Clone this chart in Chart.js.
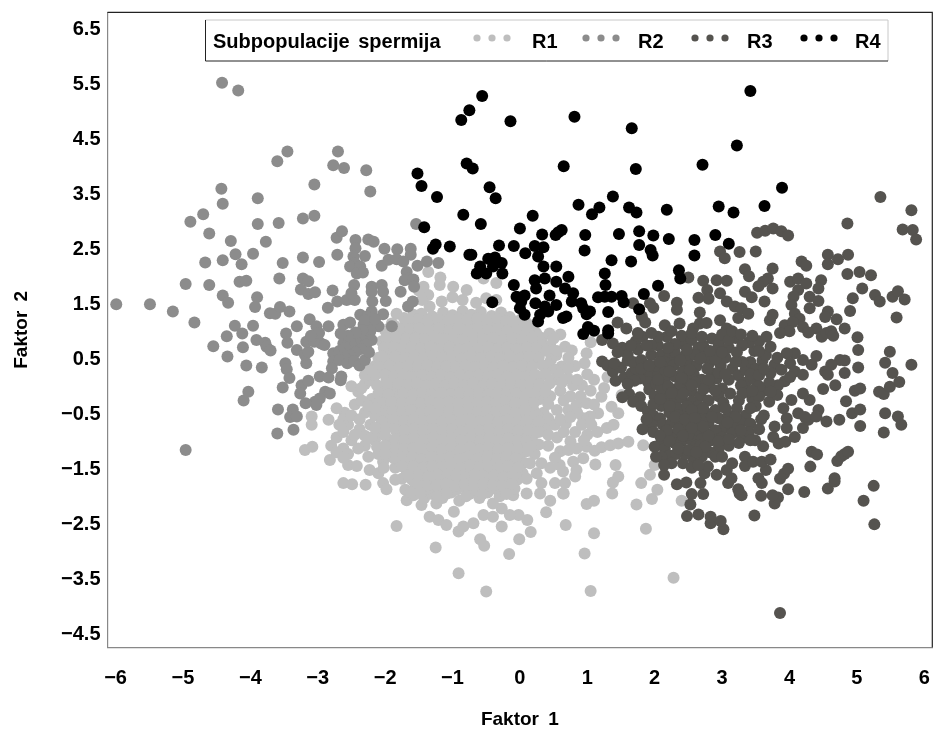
<!DOCTYPE html>
<html><head><meta charset="utf-8">
<style>html,body{margin:0;padding:0;background:#fff}#w{width:934px;height:729px;position:relative}</style>
<script src="https://cdn.jsdelivr.net/npm/chart.js@4"></script></head>
<body><div id="w"><canvas id="c" width="934" height="729"></canvas></div>
<script>
const xTicks=[-6,-5,-4,-3,-2,-1,0,1,2,3,4,5,6];
const yTicks=[-4.5,-3.5,-2.5,-1.5,-0.5,0.5,1.5,2.5,3.5,4.5,5.5,6.5];
const seriesNames=['R1','R2','R3','R4'];
const legendTitle='Subpopulacije spermija';
const xTitle='Faktor 1', yTitle='Faktor 2';
const r1=[
[-1.36,2.06],[-1.18,1.96],[-1.19,1.82],[-0.99,1.79],[-1.43,1.79],[-1.36,1.64],[-1.34,1.43],[-1.16,1.52],[-0.79,1.73],[-1.83,1.3],[-0.54,1.94],[-0.35,1.86],[-1.5,1.72],[-1.45,1.55],[-1.0,1.6],[-0.85,1.55],[-0.65,1.5],[-0.5,1.58],[-0.35,1.55],
[-1.83,-2.56],[-1.25,-2.95],[-0.91,-3.42],[-3.19,-1.18],[-3.08,-1.12],[-2.62,-1.78],[-2.49,-1.8],[-2.29,-1.81],[-2.03,-1.78],[-1.98,-1.89],[-2.82,-1.36],[-2.55,-1.45],[-2.42,-1.47],[-2.23,-1.54],[-2.1,-1.6],[-2.03,-1.39],[-3.09,-0.57],[-3.09,-0.72],[-2.84,-0.63],[-1.34,-2.39],[-1.21,-2.45],[-1.09,-2.54],[-0.91,-2.66],[-0.84,-2.57],[-0.98,-2.3],[-1.68,-2.09],[-1.46,-2.18],[-1.24,-2.15],
[-0.5,-3.75],[1.05,-3.74],[2.28,-3.5],[0.96,-3.06],[-0.16,-3.07],[-0.59,-2.8],[-0.53,-2.92],[-0.01,-2.8],[0.16,-2.67],[0.68,-2.54],[1.1,-2.69],[1.87,-2.61],[1.73,-2.17],[1.96,-2.07],[2.4,-2.1],[2.04,-1.9],[0.99,-2.16],[1.1,-2.1],[1.37,-1.97],[0.39,-2.31],[0.45,-2.1],[0.65,-1.97],[0.3,-1.97],[0.11,-2.45],[-0.02,-2.36],[-0.15,-2.36],[-0.27,-2.57],[-0.69,-2.51],[-0.54,-2.36],[-0.4,-2.39],[-0.27,-2.24],[0.1,-1.97],[-0.1,-2],[-0.4,-2.15],[1.42,-1.45],[1.12,-1.44],[1.38,-1.77],[1.46,-1.66],[1.8,-1.78],[1.93,-1.63],[2,-1.45],[1.83,-1.09],[0.99,-1.12],[1.11,-1.19],[1.21,-1.13],[1.34,-1.09],[1.46,-1.06],[1.61,-1.03],[0.84,-1.15],[0.94,-1.33],[0.79,-1.39],[0.84,-1.54],[0.82,-1.66],[0.64,-1.57],[0.67,-1.78],[0.64,-1.97],[0.59,-1.45],[0.52,-1.78],[0.32,-1.78],[0.32,-1.42],[0.25,-1.6],
[1.29,-0.78],[1.39,-0.72],[1.46,-0.51],[1.36,-0.39],[1.51,-0.18],[1.21,-0.21],[1.16,-0.51],[1.04,-0.57],[0.94,-0.6],[0.84,-0.36],[0.99,-0.33],[0.79,0],[0.99,0.58],[0.96,0.4],[0.67,0.7],[0.77,0.63],[0.92,0],[0.71,0.12],[0.62,0.34],[0.46,0.46],[0.33,0.86],[0.6,0.92],[1.3,0.15],[1.25,-0.05],[1.1,0.1],[0.45,-0.2],[0.6,-0.1],[0.55,-0.45],[0.68,-0.7],[0.82,-0.85],[0.55,-0.95],[0.4,-0.75],[0.42,-1.1],[0.6,-1.2],[0.22,-1.25],[0.18,-0.95],[1.15,-0.85],[1.0,-0.9],[0.75,-1.02],[0.3,0.15],[0.5,0.1],[0.3,0.6],[0.45,0.72],[1.05,0.78],[0.2,-0.45],[0.35,-0.5],[0.3,-0.25],
[-2.6,-0.5],[-2.72,-0.42],[-2.45,-0.35],[-2.3,-0.5],[-2.55,-0.72],[-2.38,-0.8],[-2.72,-0.95],[-2.8,-1.1],[-2.62,-1.15],[-2.5,-1.0],[-2.3,-1.1],[-2.15,-1.0],[-2.08,-0.85],[-2.22,-0.72],[-2.15,-0.55],[-2.02,-0.42],[-2.4,-0.12],[-2.5,-0.02],[-2.3,0.02],[-2.18,0.08],[-2.05,-0.12],[-2.2,-0.25],[-1.98,0.1],[-2.15,0.35],[-2.1,0.5],[-1.98,0.62],[-2.05,0.8],[-2.0,1.0],[-1.9,1.12],[-2.25,-1.3],[-2.1,-1.25],[-1.92,-1.2],[-1.95,-1.05],[-1.9,-0.72],[-1.92,-0.55],[-1.88,-0.3],[-1.85,-1.5],[-1.75,-1.7],[-1.85,-1.72],[-1.7,-1.9],[-1.58,-2.0],[-1.42,-2.05],[-1.3,-1.98],[-1.15,-2.05],[-1.02,-1.95],[-0.9,-2.1],[-0.75,-1.98],[-0.6,-2.05],[-0.48,-1.95],[-0.3,-2.02],
[-1.72,1.22],[-1.58,1.28],[-1.46,1.3],[-1.3,1.25],[-1.14,1.32],[-1.0,1.27],[-0.85,1.35],[-0.72,1.28],[-0.58,1.33],[-0.42,1.26],[-0.28,1.32],[-0.15,1.24],[0.02,1.2],
[-1.86,1.08],[-1.7,1.1],[-1.55,1.12],[-1.42,1.08],[-1.28,1.13],[-1.12,1.09],[-0.98,1.12],[-0.84,1.1],[-0.7,1.14],[-0.55,1.08],[-0.4,1.12],[-0.26,1.1],[-0.12,1.05],[0.04,1.08],[0.18,1.03],
[-1.9,0.93],[-1.76,0.96],[-1.62,0.92],[-1.48,0.95],[-1.35,0.9],[-1.2,0.96],[-1.06,0.92],[-0.92,0.95],[-0.78,0.9],[-0.62,0.96],[-0.48,0.92],[-0.33,0.95],[-0.2,0.9],[-0.06,0.94],[0.1,0.9],[0.24,0.95],
[-1.95,0.76],[-1.82,0.78],[-1.68,0.74],[-1.54,0.78],[-1.4,0.75],[-1.26,0.8],[-1.12,0.74],[-0.98,0.78],[-0.83,0.74],[-0.7,0.79],[-0.55,0.75],[-0.4,0.78],[-0.26,0.74],[-0.12,0.78],[0.02,0.74],[0.17,0.78],[0.31,0.73],
[-1.92,0.58],[-1.78,0.6],[-1.64,0.56],[-1.5,0.6],[-1.36,0.57],[-1.22,0.62],[-1.08,0.57],[-0.94,0.6],[-0.8,0.56],[-0.66,0.61],[-0.5,0.57],[-0.36,0.6],[-0.22,0.56],[-0.08,0.6],[0.06,0.56],[0.2,0.6],
[-2.0,0.42],[-1.86,0.44],[-1.72,0.4],[-1.58,0.44],[-1.44,0.4],[-1.3,0.45],[-1.16,0.41],[-1.02,0.44],[-0.88,0.4],[-0.74,0.45],[-0.6,0.41],[-0.46,0.44],[-0.32,0.4],[-0.18,0.44],[-0.04,0.4],[0.1,0.44],[0.24,0.41],
[-2.08,0.24],[-1.94,0.27],[-1.8,0.23],[-1.66,0.27],[-1.52,0.23],[-1.38,0.28],[-1.24,0.24],[-1.1,0.27],[-0.96,0.23],[-0.82,0.28],[-0.68,0.24],[-0.54,0.27],[-0.4,0.23],[-0.26,0.27],[-0.12,0.23],[0.02,0.27],[0.16,0.24],[0.4,0.28],
[-1.88,0.08],[-1.74,0.11],[-1.6,0.07],[-1.46,0.1],[-1.32,0.06],[-1.18,0.11],[-1.04,0.07],[-0.9,0.1],[-0.76,0.06],[-0.62,0.11],[-0.48,0.07],[-0.34,0.1],[-0.2,0.06],[-0.06,0.1],[0.08,0.06],[0.22,0.1],
[-1.94,-0.08],[-1.8,-0.05],[-1.66,-0.09],[-1.52,-0.06],[-1.38,-0.1],[-1.24,-0.05],[-1.1,-0.09],[-0.96,-0.06],[-0.82,-0.1],[-0.68,-0.05],[-0.54,-0.09],[-0.4,-0.06],[-0.26,-0.1],[-0.12,-0.06],[0.02,-0.09],[0.16,-0.05],[0.3,-0.08],
[-1.98,-0.24],[-1.82,-0.21],[-1.68,-0.25],[-1.54,-0.22],[-1.4,-0.26],[-1.26,-0.21],[-1.12,-0.25],[-0.98,-0.22],[-0.84,-0.26],[-0.7,-0.21],[-0.56,-0.25],[-0.42,-0.22],[-0.28,-0.26],[-0.14,-0.22],[0,-0.25],[0.14,-0.21],
[-1.96,-0.4],[-1.82,-0.38],[-1.68,-0.41],[-1.54,-0.38],[-1.4,-0.42],[-1.26,-0.37],[-1.12,-0.41],[-0.98,-0.38],[-0.84,-0.42],[-0.7,-0.37],[-0.56,-0.41],[-0.42,-0.38],[-0.28,-0.42],[-0.14,-0.38],[0,-0.41],[0.12,-0.38],
[-1.96,-0.57],[-1.8,-0.54],[-1.66,-0.58],[-1.52,-0.55],[-1.38,-0.59],[-1.24,-0.54],[-1.1,-0.58],[-0.96,-0.55],[-0.82,-0.59],[-0.68,-0.54],[-0.54,-0.58],[-0.4,-0.55],[-0.26,-0.59],[-0.12,-0.55],[0.02,-0.58],[0.16,-0.6],
[-1.78,-0.71],[-1.64,-0.74],[-1.5,-0.71],[-1.36,-0.75],[-1.22,-0.7],[-1.08,-0.74],[-0.94,-0.71],[-0.8,-0.75],[-0.66,-0.7],[-0.52,-0.74],[-0.38,-0.71],[-0.24,-0.75],[-0.1,-0.71],[0.04,-0.74],[0.2,-0.72],
[-2.0,-0.92],[-1.82,-0.88],[-1.68,-0.91],[-1.54,-0.88],[-1.4,-0.92],[-1.26,-0.87],[-1.12,-0.91],[-0.98,-0.88],[-0.84,-0.92],[-0.7,-0.87],[-0.56,-0.91],[-0.42,-0.88],[-0.28,-0.92],[-0.14,-0.88],[0,-0.91],[0.06,-0.85],
[-1.78,-1.05],[-1.64,-1.08],[-1.5,-1.05],[-1.36,-1.09],[-1.22,-1.04],[-1.08,-1.08],[-0.94,-1.05],[-0.8,-1.09],[-0.66,-1.04],[-0.52,-1.08],[-0.38,-1.05],[-0.24,-1.09],[-0.1,-1.05],[0.04,-1.08],[0.1,-1.2],
[-1.82,-1.22],[-1.68,-1.25],[-1.54,-1.22],[-1.4,-1.26],[-1.26,-1.21],[-1.12,-1.25],[-0.98,-1.22],[-0.84,-1.26],[-0.7,-1.21],[-0.56,-1.25],[-0.42,-1.22],[-0.28,-1.26],[-0.14,-1.22],[0,-1.25],
[-1.8,-1.38],[-1.64,-1.41],[-1.5,-1.38],[-1.36,-1.42],[-1.22,-1.38],[-1.08,-1.42],[-0.94,-1.38],[-0.8,-1.42],[-0.66,-1.38],[-0.52,-1.41],[-0.38,-1.38],[-0.24,-1.42],[-0.1,-1.38],[0.06,-1.41],
[-1.68,-1.56],[-1.52,-1.55],[-1.38,-1.58],[-1.24,-1.54],[-1.1,-1.58],[-0.96,-1.55],[-0.82,-1.59],[-0.68,-1.54],[-0.54,-1.58],[-0.4,-1.55],[-0.26,-1.59],[-0.12,-1.55],[0.04,-1.6],
[-1.6,-1.72],[-1.44,-1.72],[-1.3,-1.75],[-1.16,-1.71],[-1.02,-1.75],[-0.88,-1.72],[-0.74,-1.76],[-0.6,-1.71],[-0.46,-1.75],[-0.32,-1.72],[-0.18,-1.76],[-0.04,-1.72],
[-1.5,-1.88],[-1.36,-1.88],[-1.22,-1.9],[-1.08,-1.86],[-0.94,-1.9],[-0.8,-1.87],[-0.66,-1.9],[-0.52,-1.86],[-0.38,-1.88],[-0.22,-1.9],[-0.08,-1.88]
];
const r1Core=[
[-1.65,1.17],[-1.5,1.2],[-1.36,1.18],[-1.21,1.2],[-1.06,1.18],[-0.92,1.21],[-0.78,1.19],[-0.63,1.22],[-0.48,1.18],[-0.34,1.2],[-0.2,1.16],[-0.06,1.16],[0.1,1.13],
[-1.95,1.02],[-1.8,1.03],[-1.63,1.02],[-1.49,1.04],[-1.35,1.0],[-1.2,1.03],[-1.05,1.0],[-0.91,1.03],[-0.77,1.0],[-0.62,1.03],[-0.47,1.0],[-0.33,1.03],[-0.19,0.99],[-0.05,1.0],[0.11,0.97],[0.26,0.9],[0.44,0.94],
[-1.98,0.86],[-1.83,0.87],[-1.69,0.84],[-1.55,0.86],[-1.41,0.83],[-1.27,0.88],[-1.13,0.84],[-0.99,0.86],[-0.85,0.82],[-0.69,0.87],[-0.55,0.84],[-0.4,0.86],[-0.26,0.82],[-0.12,0.86],[0.03,0.83],[0.18,0.87],[0.5,0.85],
[-2.02,0.68],[-1.87,0.69],[-1.75,0.66],[-1.61,0.68],[-1.47,0.67],[-1.33,0.7],[-1.19,0.66],[-1.05,0.69],[-0.9,0.65],[-0.76,0.68],[-0.62,0.66],[-0.47,0.69],[-0.33,0.66],[-0.19,0.68],[-0.05,0.66],[0.1,0.68],[0.25,0.67],[0.4,0.62],
[-2.05,0.52],[-1.85,0.52],[-1.71,0.48],[-1.57,0.52],[-1.43,0.49],[-1.29,0.53],[-1.15,0.49],[-1.01,0.52],[-0.87,0.48],[-0.73,0.53],[-0.58,0.49],[-0.43,0.52],[-0.29,0.48],[-0.15,0.52],[-0.01,0.48],[0.13,0.52],[0.28,0.5],[0.54,0.55],
[-2.1,0.33],[-1.93,0.35],[-1.79,0.32],[-1.65,0.35],[-1.51,0.32],[-1.37,0.36],[-1.23,0.33],[-1.09,0.35],[-0.95,0.32],[-0.81,0.36],[-0.67,0.33],[-0.53,0.35],[-0.39,0.32],[-0.25,0.35],[-0.11,0.32],[0.03,0.35],[0.18,0.33],[0.34,0.36],[0.52,0.28],
[-2.15,0.18],[-2.0,0.19],[-1.87,0.16],[-1.73,0.19],[-1.59,0.15],[-1.45,0.19],[-1.31,0.15],[-1.17,0.19],[-1.03,0.15],[-0.89,0.19],[-0.75,0.15],[-0.61,0.19],[-0.47,0.15],[-0.33,0.19],[-0.19,0.15],[-0.05,0.18],[0.09,0.15],[0.23,0.19],[0.38,0.2],[0.58,0.2],
[-2.12,0.0],[-1.97,0.02],[-1.81,0.03],[-1.67,0.0],[-1.53,0.03],[-1.39,-0.01],[-1.25,0.03],[-1.11,-0.01],[-0.97,0.03],[-0.83,-0.01],[-0.69,0.03],[-0.55,-0.01],[-0.41,0.03],[-0.27,-0.01],[-0.13,0.03],[0.01,-0.01],[0.15,0.03],[0.29,0.02],[0.44,0.03],[0.62,0.05],
[-2.1,-0.15],[-1.95,-0.16],[-1.73,-0.15],[-1.59,-0.17],[-1.45,-0.14],[-1.31,-0.17],[-1.17,-0.14],[-1.03,-0.17],[-0.89,-0.14],[-0.75,-0.17],[-0.61,-0.14],[-0.47,-0.17],[-0.33,-0.14],[-0.19,-0.17],[-0.05,-0.14],[0.09,-0.17],[0.23,-0.14],[0.38,-0.12],
[-2.08,-0.32],[-1.91,-0.31],[-1.75,-0.33],[-1.61,-0.3],[-1.47,-0.33],[-1.33,-0.3],[-1.19,-0.33],[-1.05,-0.3],[-0.91,-0.33],[-0.77,-0.3],[-0.63,-0.33],[-0.49,-0.3],[-0.35,-0.33],[-0.21,-0.3],[-0.07,-0.33],[0.07,-0.3],[0.21,-0.32],[0.42,-0.34],
[-2.1,-0.47],[-1.89,-0.47],[-1.75,-0.49],[-1.61,-0.46],[-1.47,-0.5],[-1.33,-0.46],[-1.19,-0.5],[-1.05,-0.46],[-0.91,-0.5],[-0.77,-0.46],[-0.63,-0.5],[-0.49,-0.46],[-0.35,-0.5],[-0.21,-0.46],[-0.07,-0.5],[0.07,-0.47],[0.25,-0.55],[0.42,-0.6],
[-2.05,-0.66],[-1.88,-0.63],[-1.72,-0.65],[-1.58,-0.63],[-1.44,-0.66],[-1.3,-0.62],[-1.16,-0.66],[-1.02,-0.63],[-0.88,-0.67],[-0.74,-0.62],[-0.6,-0.66],[-0.46,-0.63],[-0.32,-0.67],[-0.18,-0.63],[-0.04,-0.66],[0.1,-0.64],[0.28,-0.66],[0.52,-0.72],
[-1.99,-0.78],[-1.85,-0.8],[-1.71,-0.82],[-1.57,-0.79],[-1.43,-0.83],[-1.29,-0.79],[-1.15,-0.83],[-1.01,-0.8],[-0.87,-0.84],[-0.73,-0.79],[-0.59,-0.83],[-0.45,-0.8],[-0.31,-0.84],[-0.17,-0.8],[-0.03,-0.83],[0.12,-0.82],[0.28,-0.85],
[-1.85,-0.98],[-1.71,-1.0],[-1.57,-0.97],[-1.43,-1.0],[-1.29,-0.96],[-1.15,-1.0],[-1.01,-0.97],[-0.87,-1.0],[-0.73,-0.96],[-0.59,-1.0],[-0.45,-0.97],[-0.31,-1.0],[-0.17,-0.97],[-0.03,-1.0],[0.1,-1.02],[0.28,-1.08],
[-1.86,-1.14],[-1.72,-1.16],[-1.58,-1.14],[-1.44,-1.17],[-1.3,-1.13],[-1.16,-1.17],[-1.02,-1.14],[-0.88,-1.17],[-0.74,-1.13],[-0.6,-1.17],[-0.46,-1.14],[-0.32,-1.17],[-0.18,-1.14],[-0.04,-1.17],[0.16,-1.12],
[-1.88,-1.32],[-1.73,-1.32],[-1.6,-1.3],[-1.46,-1.34],[-1.32,-1.3],[-1.18,-1.34],[-1.04,-1.3],[-0.9,-1.34],[-0.76,-1.3],[-0.62,-1.33],[-0.48,-1.3],[-0.34,-1.34],[-0.2,-1.3],[-0.06,-1.33],
[-1.74,-1.48],[-1.58,-1.48],[-1.44,-1.5],[-1.3,-1.47],[-1.16,-1.5],[-1.02,-1.47],[-0.88,-1.51],[-0.74,-1.46],[-0.6,-1.5],[-0.46,-1.47],[-0.32,-1.51],[-0.18,-1.47],[-0.03,-1.5],[0.15,-1.42],
[-1.66,-1.64],[-1.5,-1.64],[-1.36,-1.67],[-1.22,-1.63],[-1.08,-1.67],[-0.94,-1.64],[-0.8,-1.68],[-0.66,-1.63],[-0.52,-1.67],[-0.38,-1.64],[-0.24,-1.68],[-0.1,-1.64],[0.1,-1.7],
[-1.55,-1.8],[-1.38,-1.82],[-1.24,-1.83],[-1.1,-1.79],[-0.96,-1.83],[-0.82,-1.8],[-0.68,-1.83],[-0.54,-1.79],[-0.4,-1.82],[-0.26,-1.83],[-0.12,-1.8],
[-1.62,-1.95],[-1.48,-1.96],[-1.22,-2.02],[-1.08,-1.97],[-0.8,-2.02],[-0.56,-1.98],[-0.2,-1.98],
[-2.62,-0.62],[-2.5,-0.55],[-2.38,-0.62],[-2.45,-0.9],[-2.62,-0.85],[-2.3,-0.92],[-2.4,-1.15],[-2.55,-1.25],[-2.2,-0.95],[-2.15,-0.78],[-2.12,-1.12],[-2.0,-1.1],[-2.35,-0.28],[-2.25,-0.38],[-2.35,-0.05],[-2.3,0.18],[-2.25,0.3],[-2.15,-0.42],[-2.68,-0.72],[-2.72,-1.22],[-2.62,-1.32],[-2.02,-1.5],[-2.0,-1.25],
[0.55,0.62],[0.72,0.5],[0.82,0.35],[0.72,0.3],[0.85,0.1],[1.0,0.2],[0.65,-0.28],[0.75,-0.2],[0.9,-0.2],[1.05,-0.1],[0.72,-0.45],[0.85,-0.5],[1.1,-0.35],[0.6,-0.62],[0.75,-0.58],[0.92,-0.72],[1.06,-0.72],[0.65,-0.85],[0.95,-1.0],[0.42,-0.9],[0.52,-1.32],[0.45,-1.5],[0.72,-1.18]
];
const r2=[
[-4.42,5.5],[-4.18,5.36],[-2.7,4.25],[-3.45,4.25],[-3.6,4.07],[-2.77,4.0],[-2.61,3.95],[-2.28,3.91],[-3.05,3.65],[-2.22,3.52],[-4.43,3.57],[-4.41,3.3],[-3.89,3.4],[-4.7,3.11],[-4.89,2.97],[-3.89,2.93],[-3.58,2.95],[-3.22,3.03],[-3.05,3.08],[-1.54,2.93],[-4.61,2.76],[-4.29,2.62],[-3.77,2.61],[-2.72,2.68],[-2.64,2.8],[-2.44,2.64],[-2.25,2.65],[-2.17,2.61],[-2.01,2.48],[-1.82,2.47],[-1.62,2.48],[-1.62,2.37],[-4.22,2.38],[-3.96,2.39],[-4.67,2.23],[-4.41,2.27],[-4.13,2.2],[-3.52,2.22],[-3.22,2.32],[-2.98,2.24],[-2.71,2.37],[-2.44,2.49],[-2.3,2.35],[-2.47,2.34],[-2.45,2.22],[-2.52,2.16],[-2.37,2.16],[-2.42,2.03],[-2.33,2.05],[-2.05,2.17],[-1.95,2.28],[-1.83,2.29],[-1.73,2.25],[-1.52,2.17],[-1.38,2.25],[-1.21,2.22],[-1.68,2.06],[-1.66,1.94],[-1.71,1.91],[-1.58,1.92],[-1.57,1.79],[-1.77,1.7],
[-4.96,1.84],[-4.61,1.82],[-4.16,1.88],[-4.06,1.9],[-3.57,1.94],[-3.22,1.94],[-3.14,1.89],[-3.25,1.74],[-3.14,1.66],[-3.04,1.69],[-2.78,1.72],[-2.46,1.82],[-2.2,1.79],[-2.05,1.82],[-2.2,1.7],[-2.03,1.7],[-4.41,1.63],[-4.33,1.5],[-3.9,1.6],[-3.93,1.42],[-5.99,1.47],[-5.49,1.47],[-5.15,1.34],[-4.83,1.14],[-3.71,1.31],[-3.63,1.3],[-3.56,1.42],[-3.42,1.34],[-2.85,1.41],[-2.71,1.52],[-2.57,1.55],[-2.45,1.55],[-2.5,1.67],[-2.19,1.52],[-1.99,1.53],[-2.2,1.34],[-2.37,1.28],[-2.27,1.25],[-2.03,1.29],[-1.66,1.43],[-1.59,1.52],[-3.12,1.2],[-4.23,1.08],[-3.96,1.08],[-3.31,1.07],[-3.02,1.07],[-2.84,1.07],[-2.62,1.1],[-2.52,1.14],[-2.32,1.1],[-2.23,1.13],[-2.1,1.07],[-1.9,1.07],[-2.3,1.18],[-2.15,1.2],
[-4.55,0.71],[-4.35,0.89],[-4.12,0.94],[-4.11,0.69],[-4.34,0.52],[-4.06,0.36],[-3.83,0.32],[-3.91,0.82],[-3.78,0.77],[-3.76,0.7],[-3.7,0.63],[-3.47,0.94],[-3.45,0.77],[-3.31,0.64],[-3.48,0.4],[-3.46,0.29],[-3.42,0.13],[-3.52,-0.04],[-3.24,0],[-3.14,0.08],[-3.26,-0.15],[-3.17,0.4],[-3.19,0.55],[-3.14,0.61],[-3.17,0.79],[-3.05,0.79],[-2.95,0.76],[-2.9,0.73],[-2.77,0.58],[-2.77,0.43],[-2.79,0.31],[-2.62,0.76],[-2.65,0.16],[-2.66,0.09],[-2.97,0.16],[-2.84,0.14],[-4.03,-0.12],[-4.1,-0.28],[-2.89,-0.12],[-2.82,-0.15],[-3.04,-0.3],[-2.97,-0.24],[-3.02,-0.36],[-3.18,-0.33],[-3.59,-0.44],[-3.37,-0.44],[-3.41,-0.58],[-3.31,-0.57],[-3.6,-0.88],[-3.36,-0.81],[-4.96,-1.18],
[-2.68,0.62],[-2.6,0.68],[-2.52,0.72],[-2.44,0.78],[-2.36,0.84],[-2.3,0.92],[-2.22,0.98],[-2.2,0.82],[-2.28,0.74],[-2.36,0.66],[-2.44,0.6],[-2.52,0.54],[-2.6,0.5],[-2.68,0.46],[-2.56,0.4],[-2.46,0.44],[-2.38,0.36],[-2.3,0.46],[-2.24,0.6],[-2.34,1.0],[-2.44,0.96],[-2.55,0.9],[-2.66,0.94],[-2.98,0.95],[-3.1,0.9]
];
const r3=[
[3.86,-4.14],[5.26,-2.53],[5.1,-2.1],[5.25,-1.83],[3.48,-2.37],[3.02,-2.62],[2.83,-2.51],[2.98,-2.47],[2.83,-2.39],[2.65,-2.35],[2.48,-2.38],[2.53,-2.17],[2.55,-1.98],[2.72,-1.98],[2.68,-1.78],[2.33,-1.8],[2.47,-1.77],[2.14,-1.63],[3.58,-2.01],[3.78,-2.15],[3.83,-2.04],[3.75,-2],[3.98,-1.89],[4.22,-1.94],[4.57,-1.88],[4.67,-1.75],[4.67,-1.69],[3.86,-1.7],[3.92,-1.61],[3.98,-1.52],[4.31,-1.48],[4.33,-1.21],[4.41,-1.26],[4.71,-1.38],[4.77,-1.29],[4.82,-1.25],[4.87,-1.21],[3.26,-1.97],[3.29,-2],[3.24,-1.89],[3.09,-1.78],[3.14,-1.69],[2.92,-1.63],[3.07,-1.54],[2.74,-1.6],[2.79,-1.48],[3.59,-1.78],[3.54,-1.69],[3.65,-1.54],[3.34,-1.3],[3.34,-1.47],[3.46,-1.39],[3.59,-1.39],[3.72,-1.35],[3.49,-1],[3.61,-1.11],[3.76,-0.94],[3.84,-1.06],[3.94,-1.03],[4.08,-0.94],[3.78,-0.75],[4.2,-0.78],[4.28,-0.63],[4.13,-0.51],[4.23,-0.58],[3.96,-0.6],[3.96,-0.78],[3.91,-0.42],[4.03,-0.27],[4.3,-0.27],[4.2,-0.15],[4.43,-0.45],[4.4,-0.57],[4.55,-0.66],[4.74,-0.63],[5.05,-0.74],[4.93,-0.51],[5.05,-0.44],[4.84,-0.29],[4.5,-0.07],[4.68,0],[4.97,-0.1],[5.05,-0.06],[5.33,-0.12],[5.4,-0.16],[5.49,-0.03],[5.63,0.06],[5.42,-0.51],[5.61,-0.57],[5.66,-0.72],[5.4,-0.86],[5.81,0.37],[5.53,0.22],[5.42,0.41],[5.49,0.61],[5.02,0.32],[5.02,0.64],[5.01,0.87],[4.82,0.22],[4.75,0.46],[4.82,0.45],[4.62,0.37],[4.53,0.25],[4.57,0.19],[4.4,0.53],[4.33,0.37],[4.2,0.46],[4.08,0.58],[3.96,0.58],[4.01,0.4],[4.08,0.25],[4.2,0.19],[3.93,0.07],[3.83,0],[4.01,0.15],[3.78,0.37],
[5.35,3.42],[5.81,3.18],[4.86,2.94],[5.68,2.83],[5.83,2.82],[5.88,2.65],[3.52,2.77],[3.64,2.81],[3.76,2.85],[3.88,2.8],[3.98,2.72],[2.97,2.43],[3.04,2.31],[3.26,2.42],[3.5,2.43],[4.57,2.37],[4.57,2.2],[4.72,2.29],[4.87,2.37],[4.18,2.25],[4.25,2.17],[3.34,2.11],[3.4,1.98],[3.75,2.12],[3.68,1.94],[3.61,1.88],[3.54,1.8],[3.75,1.76],[4.86,2.02],[5.04,2.06],[5.21,2],[5.08,1.76],[4.94,1.58],[5.27,1.64],[5.34,1.52],[5.53,1.61],[5.61,1.71],[5.71,1.56],[5.59,1.23],[4.9,1.35],[4.7,1.2],[4.82,1.03],[2.72,1.9],[2.92,1.91],[3.07,1.9],[2.5,1.96],[2.78,1.73],[2.65,1.59],[2.8,1.57],[2.97,1.67],[3.07,1.52],[3.34,1.7],[3.44,1.6],[3.63,1.52],[3.19,1.43],[3.29,1.4],[3.39,1.3],[3.24,1.22],[2.67,1.32],[2.33,1.5],[2.33,1.37],[2.14,1.62],[1.93,1.49],[1.98,1.41],[1.68,1.49],[1.81,1.25],[1.86,1.14],[1.45,1.14],[3.71,1.18],[3.75,1.28],[4.01,1.88],[4.13,1.94],[4.25,1.85],[4.13,1.73],[4.06,1.61],[4.3,1.61],[4.43,1.53],[4.47,1.91],[4.43,1.76],[4.3,1.4],[4.57,1.34],[4.53,1.24],[4.03,1.46],[4.08,1.3],[4.15,1.21],[3.93,1.09],[4.2,1.06],[4.4,1.03],[2.97,1.18],[3.07,1.03],[2.67,1.12],[2.77,1.13],[2.57,1.03],[2.15,1.09],[2.37,1.12],[1.58,1.03],[4.05,1.15],[4.0,0.98],[3.86,0.95],[4.28,0.96],[4.48,0.88],[4.55,0.95],[4.62,0.98],[4.65,0.9],
[1.22,0.82],[1.38,0.76],[1.52,0.68],[1.58,0.63],[1.22,0.43],[1.3,0.36],[1.38,0.25],[1.5,0.32],[1.42,0.08],[1.55,0.14],[1.66,0.22],[1.72,0.3],[1.6,0.45],[1.68,0.42],[1.8,0.46],[1.95,0.55],[1.72,0.8],[1.82,0.88],[1.75,0.95],[2.05,0.72],[2.1,0.55],[2.22,0.5],[2.3,0.6],[2.15,0.42],[2.28,0.36],[2.1,0.25],[2.0,0.18],[1.88,0.2],[1.9,0.06],[1.92,-0.08],[2.02,0.02],[2.15,0.1],[2.3,0.16],[2.42,0.26],[2.5,0.4],[2.46,0.55],[2.42,0.75],[2.4,0.9],[2.55,0.82],[2.65,0.68],[2.75,0.55],[2.72,0.72],[2.85,0.85],[2.95,0.75],[2.82,0.42],[2.62,0.35],[2.58,0.2],[2.7,0.1],[2.85,0.22],[2.98,0.36],[3.05,0.5],[3.1,0.68],[3.2,0.86],[3.15,0.3],[3.24,0.18],[3.1,0.1],[3.35,0.05],[3.28,0.0],[3.48,0.1],[3.35,0.28],[3.42,0.42],[3.5,0.3],[3.6,0.45],[3.65,0.55],[3.72,0.7],[3.48,0.62],[3.4,0.78],[3.55,0.8],[3.3,0.72],[3.66,0.88],[3.62,-0.1],[3.45,-0.25],[3.38,-0.12],[3.25,-0.28],[3.0,-0.06],[2.82,-0.03],[2.45,-0.05],[2.55,-0.12],[2.68,-0.2],[2.3,-0.08],[2.15,-0.1],[2.0,-0.2],[1.78,-0.22],[1.62,-0.16],[1.52,-0.22],
[1.68,-0.3],[1.8,-0.38],[1.9,-0.48],[1.98,-0.55],[2.1,-0.38],[2.18,-0.25],[2.3,-0.3],[2.4,-0.22],[2.55,-0.3],[2.65,-0.38],[2.8,-0.28],[2.95,-0.2],[3.02,-0.32],[2.9,-0.45],[2.78,-0.52],[2.62,-0.5],[2.48,-0.55],[2.35,-0.42],[2.22,-0.5],[2.08,-0.6],[1.95,-0.72],[1.82,-0.8],[1.98,-0.85],[2.12,-0.72],[2.25,-0.68],[2.38,-0.7],[2.5,-0.68],[2.65,-0.7],[2.8,-0.68],[2.95,-0.6],[3.1,-0.55],[3.22,-0.42],[3.35,-0.55],[3.28,-0.68],[3.15,-0.72],[3.02,-0.78],[2.9,-0.82],[2.75,-0.85],[2.6,-0.85],[2.45,-0.82],[2.3,-0.9],[2.18,-0.9],[2.1,-1.02],[2.0,-1.12],[2.15,-1.15],[2.22,-1.28],[2.3,-1.05],[2.4,-1.02],[2.55,-1.0],[2.7,-0.98],[2.85,-1.0],[3.0,-0.95],[3.15,-0.88],[3.3,-0.95],[3.25,-1.05],[3.1,-1.1],[2.95,-1.15],[2.82,-1.22],[2.7,-1.3],[2.58,-1.35],[2.42,-1.42],[2.45,-1.25],[2.32,-1.25],[2.25,-1.42],[2.1,-1.3],[2.14,-1.45],[2.02,-1.3],[2.55,-1.5],[2.65,-1.45],[2.9,-1.3],[3.0,-1.3],[3.15,-1.42],
[1.6,0.55],[2.6,0.55],[2.55,0.95],[2.3,0.75],[2.18,0.88],[2.9,0.62],[3.0,0.92],[3.22,0.6],[2.0,0.35],[1.78,0.12],[2.38,0.02],[2.92,0.12],[2.72,-0.08],[2.78,0.3],[3.55,-0.2],[3.7,-0.3],[3.3,-0.15],[2.48,0.1],[2.22,0.25],[2.1,-0.05],[2.5,-0.9],[2.62,-1.1],[2.35,-0.55],[2.72,-0.6],[2.48,-0.38],[2.18,-0.82],[3.5,-0.38],[3.62,-0.55],[3.42,-0.7],[3.58,-0.62],[3.7,0.05],[3.42,0.2],
[2.05,0.88],[2.25,0.98],[2.48,0.65],[2.2,0.68],[2.38,0.45],[2.52,0.28],[2.68,0.48],[2.9,0.48],[2.82,0.62],[2.95,0.22],[3.05,0.2],[2.6,0.05],[2.4,0.13],[2.2,-0.02],[2.05,0.1],[1.8,0.3],[1.92,0.36],[1.95,0.72],[2.08,0.42],[1.98,-0.35],[2.25,-0.14],[2.42,-0.15],[2.55,0.0],[2.8,0.1],[3.12,-0.15],[2.9,-0.1],[3.05,-0.42],[2.72,-0.42],[2.55,-0.45],[2.22,-0.38],[2.08,-0.25],[1.88,-0.62],[2.3,-0.58],[2.45,-0.62],[2.6,-0.6],[2.85,-0.58],[3.2,-0.58],[3.08,-0.68],[2.72,-0.75],[2.55,-0.78],[2.35,-0.8],[2.08,-0.92],[2.22,-1.02],[2.42,-0.92],[2.68,-1.1],[2.8,-0.92],[2.95,-1.02],[2.75,-1.12],[2.5,-1.18],[2.35,-1.15],[2.62,-1.22],[3.1,-0.98],[3.4,-0.85],[3.55,-0.8],[1.75,0.65],[1.88,0.72],[1.65,0.72],[1.4,0.4],[1.45,0.6],[1.7,0.08],[1.6,0.02],[3.55,0.18],[3.3,0.42],[3.2,0.42],[3.1,0.82],[3.0,0.6],[3.45,0.9],[1.95,0.95],[2.7,0.88],
[3.15,0.98],[3.28,0.92],[3.55,0.62],[3.82,0.5],[3.88,0.28],[3.72,0.22],[3.62,0.3],[3.82,-0.18],[3.72,-0.12],[3.55,-0.02],[3.45,-0.1],[3.42,-0.42],[3.28,-0.82],[3.42,-1.0]
];
const r4=[
[-1.52,3.85],[-1.46,3.62],[-1.23,3.42],[-0.84,3.1],[-1.42,2.87],[-1.25,2.56],[-1.29,2.48],[-1.04,2.52],[-0.75,2.37],[-0.87,4.82],[-0.75,5.0],[-0.79,4.03],[-0.56,5.26],[-0.14,4.8],[0.81,4.88],[1.66,4.67],[3.42,5.35],[3.22,4.36],[2.71,4.01],[1.72,3.93],[0.65,3.98],[-0.7,3.94],[-0.45,3.6],[-0.36,3.4],[3.89,3.59],[3.63,3.26],[2.95,3.25],[3.17,3.14],[2.18,3.19],[1.62,3.23],[1.73,3.14],[1.38,3.43],[0.87,3.28],[1.18,3.23],[1.07,3.11],[0.19,3.08],[-0.58,2.93],[0,2.85],[0.33,2.74],[0.53,2.73],[0.62,2.82],[0.57,2.78],[0.97,2.73],[1.47,2.75],[1.77,2.8],[1.98,2.72],[2.21,2.66],[2.59,2.64],[2.9,2.73],[3.1,2.57],[0.96,2.45],[1.77,2.55],[1.94,2.46],[1.97,2.36],[2.59,2.36],[-0.31,2.54],[-0.09,2.53],[0.08,2.4],[0.22,2.53],[0.35,2.51],[0.27,2.34],[1.36,2.27],[1.65,2.25],[0.54,2.16],[0.35,2.16],[-0.72,2.37],[-0.47,2.3],[-0.37,2.32],[-0.59,2.16],[-0.27,2.22],[-0.64,2.03],[-0.5,2.03],[-0.4,2.16],[-0.26,2.03],[1.26,2.03],[2.36,2.09],[2.38,1.94],[0.72,1.97],[0.37,1.94],[0.22,1.91],[0.24,1.76],[0.54,1.88],[0.67,1.76],[1.27,1.82],[2.05,1.81],[-0.09,1.82],[0.79,1.67],[0.44,1.63],[1.84,1.66],[1.16,1.6],[1.26,1.61],[1.36,1.61],[1.51,1.62],[1.54,1.51],[-0.05,1.61],[0.07,1.63],[0.02,1.52],[-0.41,1.51],[0.23,1.49],[0.77,1.52],[0.91,1.49],[0.54,1.46],[0.37,1.43],[0,1.4],[0.07,1.28],[0.3,1.28],[0.42,1.34],[0.69,1.25],[0.64,1.22],[0.27,1.16],[0.94,1.4],[1.04,1.34],[0.99,1.29],[1.31,1.33],[1.77,1.38],[1.01,1.06],[1.31,1.0],[0.94,0.93],[1.1,0.99],[1.31,0.94]
];
function pts(a){return a.map(p=>({x:p[0],y:p[1]}));}
const colors=['#bebebe','#8c8c8c','#55534f','#000000'];
const plotBox={id:'plotBox',
 beforeDraw(ch){ch.ctx.wordSpacing='4px';},
 afterDraw(ch){
  const c=ch.ctx,a=ch.chartArea;
  c.save();
  c.strokeStyle='#222';c.lineWidth=1.2;
  c.beginPath();c.moveTo(a.left,a.top);c.lineTo(a.right,a.top);c.lineTo(a.right,a.bottom);c.stroke();
  const L=205.5,T=20,R=888,B=61;
  c.fillStyle='#fff';c.fillRect(L,T,R-L,B-T);
  c.lineWidth=1;
  c.strokeStyle='#c8c8c8';c.beginPath();c.moveTo(L,T);c.lineTo(R,T);c.lineTo(R,B);c.stroke();
  c.strokeStyle='#222';c.beginPath();c.moveTo(L,T);c.lineTo(L,B);c.lineTo(R,B);c.stroke();
  c.font='bold 20px "Liberation Sans"';c.fillStyle='#000';c.textBaseline='alphabetic';c.textAlign='left';
  c.wordSpacing='3px';
  c.fillText(legendTitle,213,48);
  const dotX=[477,586,695,804],txtX=[532,638,747,855];
  seriesNames.forEach((n,i)=>{
   c.fillStyle=colors[i];
   for(let k=0;k<3;k++){c.beginPath();c.arc(dotX[i]+k*15,38,3.6,0,Math.PI*2);c.fill();}
   c.fillStyle='#000';c.fillText(n,txtX[i],48);
  });
  c.restore();
 }};
new Chart(document.getElementById('c'),{
 type:'scatter',
 data:{datasets:[r1.concat(r1Core),r2,r3,r4].map((d,i)=>({label:seriesNames[i],data:pts(d),backgroundColor:colors[i],borderWidth:0,pointRadius:6,pointHoverRadius:6,order:4-i}))},
 plugins:[plotBox],
 options:{responsive:false,animation:false,devicePixelRatio:1,
  layout:{autoPadding:false,padding:{top:12.3,right:1.7,left:0,bottom:0}},
  plugins:{legend:{display:false},tooltip:{enabled:false}},
  scales:{
   x:{type:'linear',min:-6.12,max:6.12,
    afterBuildTicks(s){s.ticks=xTicks.map(v=>({value:v}));},
    afterFit(s){s.height=81.7;s.paddingLeft=0;s.paddingRight=0;},
    grid:{display:false,drawTicks:true,tickLength:7,tickColor:'#999'},
    border:{display:true,color:'#888',width:1.2},
    ticks:{autoSkip:false,maxRotation:0,padding:12,color:'#000',font:{family:'"Liberation Sans"',size:20,weight:'bold'},callback:v=>String(v).replace('-','\u2212')},
    title:{display:true,text:xTitle,color:'#000',font:{family:'"Liberation Sans"',size:19,weight:'bold'},padding:{top:16,bottom:-2}}},
   y:{type:'linear',min:-4.765,max:6.78,
    afterBuildTicks(s){s.ticks=yTicks.map(v=>({value:v}));},
    afterFit(s){s.width=107.5;s.paddingTop=0;s.paddingBottom=0;},
    grid:{display:false,drawTicks:true,tickLength:3,tickColor:'#999'},
    border:{display:true,color:'#888',width:1.2},
    ticks:{autoSkip:false,padding:4,labelOffset:1.5,color:'#000',font:{family:'"Liberation Sans"',size:20,weight:'bold'},callback:v=>String(v).replace('-','\u2212')},
    title:{display:true,text:yTitle,color:'#000',font:{family:'"Liberation Sans"',size:19,weight:'bold'},padding:{top:10,bottom:0}}}
  }}
});
</script></body></html>
